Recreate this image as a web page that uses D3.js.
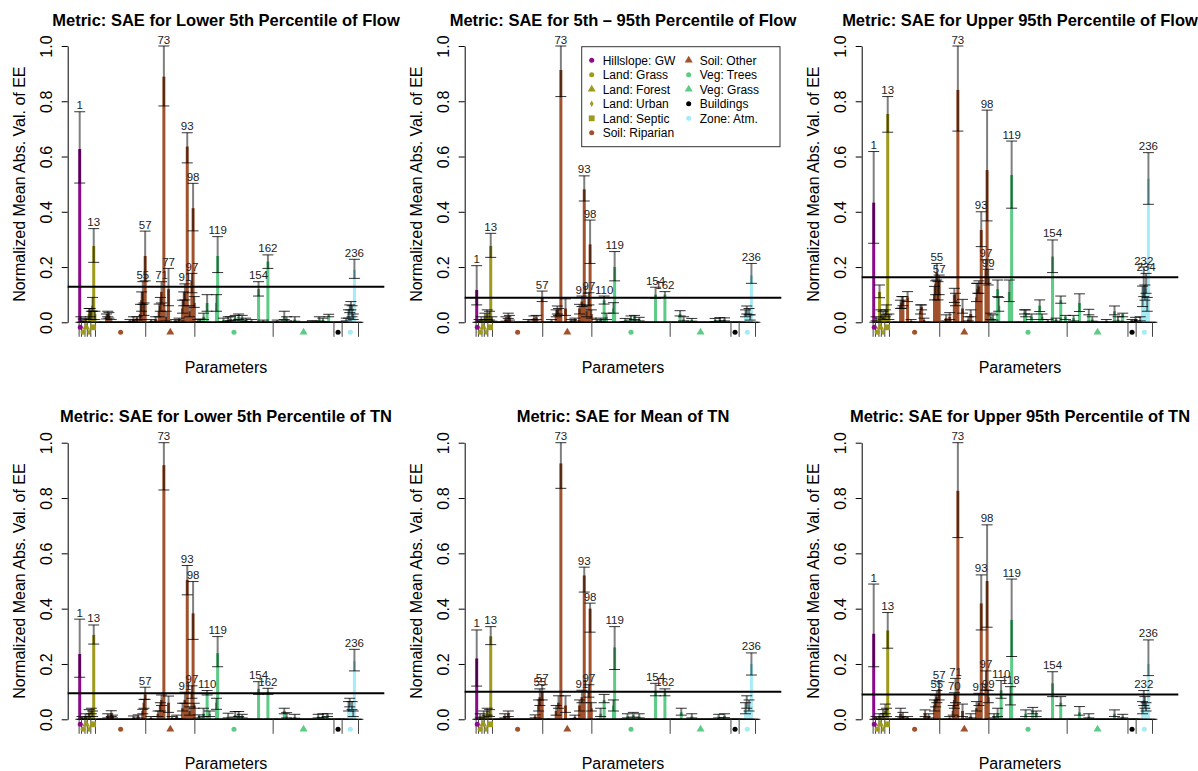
<!DOCTYPE html>
<html><head><meta charset="utf-8">
<script src="https://cdn.jsdelivr.net/npm/d3@7"></script>
<style>
body{margin:0;background:#fff;}
svg text{font-family:"Liberation Sans",Arial,Helvetica,sans-serif;}
</style>
</head><body>
<svg id="chart" width="1198" height="771"></svg>
<script>
// ---------------- DATA ----------------
const panelTitles = [
  "Metric: SAE for Lower 5th Percentile of Flow",
  "Metric: SAE for 5th \u2013 95th Percentile of Flow",
  "Metric: SAE for Upper 95th Percentile of Flow",
  "Metric: SAE for Lower 5th Percentile of TN",
  "Metric: SAE for Mean of TN",
  "Metric: SAE for Upper 95th Percentile of TN"
];
const thresholds = [0.129, 0.089, 0.163, 0.094, 0.100, 0.090];
const yTicks = [0, 0.2, 0.4, 0.6, 0.8, 1.0];
const nParams = 239;

// parameter categories (first/last parameter index)
const categoryNames = ["Hillslope: GW","Land: Grass","Land: Forest","Land: Urban","Land: Septic",
  "Soil: Riparian","Soil: Other","Veg: Trees","Veg: Grass","Buildings","Zone: Atm."];
const categoryFirst = [1, 3, 6, 8, 11, 15, 58, 100, 167, 219, 226];
const categoryLast  = [2, 5, 7, 10, 14, 57, 99, 166, 218, 225, 239];

// [parameter, mean, lower, upper]; parameters not listed are 0
const flowLow = [
 [1,0.627,0.504,0.762],[2,0.01,0,0.02],[4,0.005,0,0.012],[6,0.008,0.002,0.015],[9,0.03,0.01,0.05],
 [10,0.04,0.02,0.05],[11,0.02,0.01,0.04],[12,0.06,0.04,0.09],[13,0.276,0.217,0.339],[14,0.03,0.01,0.04],
 [24,0.02,0.012,0.03],[25,0.03,0.02,0.04],[26,0.025,0.015,0.035],[28,0.005,0,0.01],[44,0.004,0,0.01],
 [47,0.01,0.004,0.02],[50,0.015,0.008,0.02],[53,0.03,0.01,0.065],[54,0.08,0.04,0.11],[55,0.11,0.065,0.147],
 [56,0.05,0.025,0.07],[57,0.24,0.15,0.33],[62,0.005,0,0.01],[66,0.01,0.004,0.02],[69,0.04,0.02,0.066],
 [70,0.06,0.04,0.09],[71,0.11,0.07,0.147],[73,0.889,0.783,1.0],[75,0.02,0.005,0.04],[77,0.12,0.06,0.195],
 [83,0.005,0,0.01],[86,0.01,0.005,0.015],[89,0.05,0.033,0.08],[90,0.08,0.06,0.11],[91,0.11,0.081,0.139],
 [93,0.636,0.577,0.686],[95,0.04,0.02,0.06],[97,0.15,0.107,0.177],[98,0.413,0.331,0.503],[99,0.07,0.054,0.093],
 [102,0.005,0,0.01],[104,0.008,0.002,0.012],[107,0.02,0.01,0.033],[110,0.07,0.04,0.1],[118,0.07,0.04,0.1],
 [119,0.24,0.18,0.31],[124,0.008,0.003,0.015],[128,0.01,0.004,0.02],[130,0.012,0.006,0.02],[134,0.015,0.008,0.025],
 [137,0.02,0.01,0.03],[140,0.015,0.008,0.025],[143,0.008,0.003,0.015],[148,0.005,0,0.01],[154,0.12,0.095,0.147],
 [158,0.005,0,0.008],[162,0.22,0.195,0.244],[170,0.005,0,0.008],[176,0.02,0.01,0.04],[178,0.01,0.005,0.02],
 [185,0.01,0.004,0.02],[200,0.003,0,0.006],[206,0.01,0.004,0.02],[209,0.008,0.002,0.015],[214,0.025,0.02,0.029],
 [229,0.01,0.005,0.015],[231,0.03,0.015,0.045],[232,0.05,0.035,0.063],[233,0.06,0.045,0.075],[234,0.04,0.02,0.06],
 [235,0.02,0.01,0.03],[236,0.19,0.159,0.228]
];
const flowMid = [
 [1,0.117,0.063,0.205],[3,0.005,0,0.01],[5,0.01,0.005,0.02],[8,0.02,0.01,0.033],[10,0.03,0.01,0.045],
 [12,0.02,0.008,0.04],[13,0.276,0.235,0.322],[14,0.01,0.004,0.02],[26,0.01,0.004,0.02],[28,0.02,0.014,0.033],
 [29,0.015,0.008,0.025],[45,0.005,0,0.01],[50,0.015,0.008,0.023],[52,0.018,0.01,0.025],[57,0.09,0.075,0.113],
 [65,0.005,0,0.01],[69,0.03,0.02,0.045],[70,0.045,0.03,0.059],[71,0.035,0.025,0.05],[73,0.913,0.817,1.0],
 [77,0.05,0.025,0.085],[82,0.005,0,0.01],[85,0.01,0.005,0.015],[89,0.05,0.03,0.065],[91,0.075,0.057,0.095],
 [93,0.481,0.439,0.53],[95,0.04,0.02,0.06],[97,0.085,0.063,0.107],[98,0.282,0.213,0.37],[99,0.03,0.015,0.045],
 [104,0.005,0,0.01],[107,0.01,0.004,0.015],[110,0.08,0.066,0.095],[112,0.02,0.01,0.033],[118,0.05,0.033,0.071],
 [119,0.2,0.15,0.256],[128,0.008,0.003,0.014],[133,0.015,0.008,0.023],[136,0.018,0.01,0.025],[140,0.01,0.005,0.018],
 [154,0.1,0.087,0.127],[162,0.1,0.09,0.111],[175,0.03,0.023,0.042],[178,0.01,0.005,0.02],[185,0.008,0.004,0.014],
 [205,0.008,0.003,0.014],[209,0.01,0.005,0.017],[213,0.01,0.005,0.016],[231,0.03,0.02,0.045],[232,0.045,0.03,0.059],
 [234,0.035,0.027,0.05],[235,0.015,0.008,0.027],[236,0.17,0.141,0.213]
];
const flowHigh = [
 [1,0.433,0.286,0.618],[3,0.01,0.005,0.02],[6,0.11,0.089,0.135],[7,0.03,0.015,0.045],[9,0.02,0.01,0.04],
 [11,0.03,0.02,0.045],[12,0.04,0.027,0.063],[13,0.754,0.688,0.817],[14,0.02,0.01,0.03],[24,0.06,0.05,0.08],
 [25,0.07,0.051,0.093],[26,0.08,0.06,0.093],[30,0.09,0.075,0.111],[33,0.005,0,0.01],[41,0.04,0.03,0.063],
 [42,0.055,0.045,0.063],[44,0.008,0,0.015],[53,0.1,0.081,0.13],[54,0.14,0.1,0.15],[55,0.18,0.153,0.213],
 [56,0.12,0.081,0.147],[57,0.15,0.1,0.171],[63,0.015,0.005,0.027],[66,0.02,0.01,0.035],[70,0.1,0.072,0.123],
 [71,0.08,0.06,0.105],[73,0.841,0.692,1.0],[77,0.05,0.033,0.083],[82,0.01,0.005,0.02],[84,0.03,0.02,0.045],
 [89,0.09,0.075,0.141],[90,0.12,0.105,0.141],[91,0.13,0.105,0.15],[93,0.334,0.274,0.4],[97,0.19,0.141,0.226],
 [98,0.551,0.367,0.768],[99,0.16,0.135,0.192],[101,0.02,0.01,0.033],[103,0.015,0.008,0.027],[107,0.12,0.093,0.153],
 [108,0.06,0.04,0.09],[117,0.11,0.075,0.153],[119,0.533,0.413,0.656],[130,0.035,0.03,0.045],[131,0.03,0.02,0.045],
 [136,0.02,0.01,0.03],[143,0.06,0.039,0.081],[145,0.02,0.01,0.03],[150,0.005,0,0.01],[154,0.238,0.18,0.298],
 [157,0.01,0.004,0.015],[161,0.08,0.069,0.095],[165,0.02,0.01,0.025],[172,0.015,0.005,0.025],[177,0.07,0.039,0.103],
 [185,0.03,0.027,0.047],[188,0.01,0.004,0.02],[200,0.005,0,0.01],[207,0.04,0.027,0.059],[210,0.01,0.004,0.02],
 [214,0.03,0.02,0.033],[222,0.005,0,0.01],[225,0.01,0.005,0.018],[229,0.01,0.005,0.02],[231,0.09,0.057,0.131],
 [232,0.13,0.093,0.2],[233,0.11,0.08,0.135],[234,0.12,0.105,0.177],[235,0.06,0.04,0.09],[236,0.52,0.427,0.614]
];
const tnLow = [
 [1,0.236,0.152,0.362],[3,0.005,0,0.01],[6,0.01,0.005,0.02],[9,0.02,0.01,0.035],[11,0.03,0.02,0.04],
 [12,0.02,0.01,0.03],[13,0.305,0.272,0.341],[25,0.01,0.005,0.02],[28,0.02,0.01,0.031],[29,0.01,0.005,0.015],
 [47,0.005,0,0.012],[51,0.01,0.005,0.016],[55,0.03,0.02,0.036],[56,0.06,0.04,0.072],[57,0.09,0.072,0.116],
 [62,0.005,0,0.01],[68,0.02,0.01,0.03],[70,0.05,0.03,0.06],[71,0.07,0.05,0.088],[73,0.919,0.829,1.0],
 [77,0.06,0.025,0.084],[80,0.005,0,0.01],[84,0.008,0.003,0.015],[89,0.04,0.03,0.058],[91,0.07,0.058,0.098],
 [93,0.504,0.45,0.556],[95,0.03,0.015,0.045],[97,0.1,0.076,0.121],[98,0.383,0.289,0.498],[99,0.05,0.04,0.058],
 [103,0.01,0.005,0.016],[107,0.02,0.01,0.04],[110,0.095,0.088,0.104],[112,0.02,0.01,0.03],[118,0.06,0.036,0.076],
 [119,0.239,0.19,0.299],[128,0.01,0.005,0.022],[134,0.015,0.008,0.028],[137,0.02,0.01,0.028],[140,0.01,0.005,0.018],
 [154,0.11,0.09,0.136],[162,0.1,0.09,0.112],[176,0.03,0.02,0.04],[178,0.01,0.005,0.024],[185,0.008,0.004,0.018],
 [205,0.01,0.005,0.018],[209,0.012,0.006,0.02],[213,0.015,0.01,0.02],[231,0.04,0.03,0.064],[232,0.06,0.045,0.076],
 [234,0.05,0.035,0.064],[235,0.02,0.01,0.03],[236,0.21,0.175,0.253]
];
const tnMean = [
 [1,0.22,0.12,0.323],[4,0.01,0.005,0.02],[7,0.015,0.008,0.03],[10,0.03,0.015,0.04],[12,0.02,0.01,0.035],
 [13,0.3,0.27,0.335],[25,0.01,0.005,0.02],[28,0.02,0.01,0.03],[51,0.01,0.005,0.016],[54,0.05,0.03,0.07],
 [55,0.08,0.05,0.11],[57,0.1,0.07,0.125],[69,0.03,0.015,0.05],[71,0.06,0.04,0.085],[73,0.925,0.835,1.0],
 [77,0.05,0.025,0.085],[85,0.008,0.003,0.015],[89,0.05,0.03,0.07],[91,0.08,0.06,0.105],[93,0.52,0.46,0.55],
 [97,0.1,0.08,0.125],[98,0.4,0.315,0.42],[99,0.04,0.03,0.06],[107,0.02,0.01,0.04],[110,0.07,0.06,0.09],
 [118,0.05,0.03,0.07],[119,0.26,0.18,0.335],[130,0.01,0.005,0.02],[135,0.015,0.008,0.025],[140,0.01,0.005,0.02],
 [154,0.1,0.085,0.13],[162,0.095,0.085,0.11],[176,0.025,0.015,0.04],[185,0.01,0.005,0.02],[208,0.01,0.005,0.018],
 [213,0.012,0.006,0.02],[231,0.03,0.02,0.06],[232,0.06,0.04,0.085],[234,0.05,0.03,0.07],[236,0.2,0.16,0.24]
];
const tnHigh = [
 [1,0.309,0.19,0.489],[3,0.005,0,0.01],[6,0.01,0.005,0.02],[9,0.02,0.01,0.035],[11,0.03,0.02,0.055],
 [12,0.02,0.01,0.04],[13,0.321,0.257,0.386],[24,0.02,0.01,0.04],[26,0.01,0.005,0.025],[30,0.005,0,0.01],
 [45,0.02,0.01,0.034],[48,0.01,0.005,0.02],[53,0.05,0.03,0.07],[54,0.07,0.045,0.088],[55,0.08,0.06,0.104],
 [57,0.11,0.07,0.136],[66,0.005,0,0.01],[69,0.03,0.015,0.05],[70,0.07,0.04,0.096],[71,0.09,0.06,0.148],
 [73,0.826,0.657,1.0],[77,0.03,0.01,0.055],[84,0.01,0.005,0.02],[89,0.04,0.03,0.064],[91,0.06,0.05,0.094],
 [93,0.419,0.323,0.522],[97,0.13,0.106,0.175],[98,0.5,0.333,0.703],[99,0.08,0.06,0.104],[104,0.01,0.005,0.02],
 [107,0.02,0.01,0.04],[110,0.105,0.076,0.14],[118,0.09,0.052,0.118],[119,0.359,0.227,0.507],[131,0.02,0.01,0.034],
 [137,0.03,0.02,0.043],[140,0.02,0.01,0.03],[154,0.13,0.082,0.172],[161,0.06,0.049,0.082],[177,0.025,0.015,0.046],
 [185,0.01,0.005,0.02],[207,0.02,0.01,0.034],[214,0.01,0.005,0.018],[231,0.04,0.02,0.064],[232,0.07,0.05,0.104],
 [233,0.06,0.04,0.082],[234,0.04,0.03,0.06],[236,0.2,0.158,0.287]
];
const panelData = [flowLow, flowMid, flowHigh, tnLow, tnMean, tnHigh];

// ---------------- STYLE ----------------
const categoryColors = ["#8B0A8B","#9E9A1C","#9E9A1C","#9E9A1C","#9E9A1C","#A0522D","#A0522D",
  "#5CCB85","#5CCB85","#000000","#A6ECF6"];
const categoryShapes = ["circle","circle","triangle","diamond","square","circle","triangle",
  "circle","triangle","circle","circle"];
const markerLift = [1,0,1,0,1,0,0,0,0,0,0];

const svg = d3.select("#chart");
svg.append("rect").attr("width",1198).attr("height",771).attr("fill","#fff");

function symbolPath(shape, scale){
  const s = scale || 1;
  const m = {circle:[d3.symbolCircle,20],triangle:[d3.symbolTriangle,28],
             diamond:[d3.symbolDiamond,12],square:[d3.symbolSquare,34]}[shape];
  return d3.symbol().type(m[0]).size(m[1]*s)();
}
function catOf(p){
  for(let i=0;i<categoryFirst.length;i++) if(p>=categoryFirst[i] && p<=categoryLast[i]) return i;
  return 0;
}

panelData.forEach((list, k) => {
  const col = k % 3, row = Math.floor(k / 3);
  const ax = 67.7 + 397*col;
  const yTop = 46 + 396.7*row, yBot = 322.3 + 397*row;
  const plotW = 316.6;
  const y = d3.scaleLinear().domain([0,1]).range([yBot, yTop]);
  const x = d3.scaleLinear().domain([1, nParams]).range([ax+12, ax+12+(nParams-1)*1.169]);
  const g = svg.append("g");

  const byParam = new Map(list.map(d => [d[0], d]));
  const series = d3.range(1, nParams+1).map(p => {
    const d = byParam.get(p);
    return d ? {p, mean:d[1], lo:d[2], hi:d[3]} : {p, mean:0, lo:0, hi:0};
  });

  // bars
  g.append("g").selectAll("rect").data(series.filter(d => d.mean > 0)).join("rect")
    .attr("x", d => x(d.p) - 1.5).attr("width", 3)
    .attr("y", d => y(d.mean)).attr("height", d => yBot - y(d.mean))
    .attr("fill", d => categoryColors[catOf(d.p)]);

  // error bars
  const eb = g.append("g");
  eb.selectAll("line.v").data(series.filter(d => d.hi > d.lo)).join("line")
    .attr("class","v")
    .attr("x1", d => x(d.p)).attr("x2", d => x(d.p))
    .attr("y1", d => y(d.lo)).attr("y2", d => y(d.hi))
    .attr("stroke","rgba(0,0,0,0.5)").attr("stroke-width",2);
  const caps = [];
  series.forEach(d => { caps.push({p:d.p, v:d.lo}); if (d.hi !== d.lo) caps.push({p:d.p, v:d.hi}); });
  eb.selectAll("line.c").data(caps).join("line")
    .attr("class","c")
    .attr("x1", d => x(d.p) - 5.5).attr("x2", d => x(d.p) + 5.5)
    .attr("y1", d => y(d.v)).attr("y2", d => y(d.v))
    .attr("stroke","#000").attr("stroke-opacity",0.8).attr("stroke-width",1);

  // threshold
  g.append("line").attr("x1", ax).attr("x2", ax+plotW)
    .attr("y1", y(thresholds[k])).attr("y2", y(thresholds[k]))
    .attr("stroke","#000").attr("stroke-width",2);

  // labels
  g.append("g").selectAll("text").data(series.filter(d => d.hi > thresholds[k])).join("text")
    .attr("x", d => x(d.p)).attr("y", d => y(d.hi) - 2.5)
    .attr("text-anchor","middle").attr("font-size",11.5).attr("fill","#222")
    .text(d => d.p);

  // category separators and markers
  const cg = g.append("g");
  const bounds = new Set();
  categoryFirst.forEach((f,i) => { bounds.add(f - 0.5); bounds.add(categoryLast[i] + 0.5); });
  cg.selectAll("line").data([...bounds]).join("line")
    .attr("x1", d => x(d)).attr("x2", d => x(d))
    .attr("y1", yBot).attr("y2", yBot + 14.5)
    .attr("stroke","#444").attr("stroke-width",1);
  cg.selectAll("path").data(categoryNames.map((n,i) => i)).join("path")
    .attr("d", i => symbolPath(categoryShapes[i]))
    .attr("transform", i => `translate(${x((categoryFirst[i]+categoryLast[i])/2)},${yBot + (markerLift[i] ? 5 : 10)})`)
    .attr("fill", i => categoryColors[i]);

  // y axis
  const axis = d3.axisLeft(y).tickValues(yTicks).tickFormat(d3.format(".1f")).tickSize(6).tickSizeOuter(0);
  const ag = g.append("g").attr("transform", `translate(${ax},0)`).call(axis);
  ag.selectAll("path, line").attr("stroke","#000");
  ag.selectAll("text").attr("x", null).attr("dy", null)
    .attr("text-anchor","middle")
    .attr("transform","translate(-15.3,0) rotate(-90)")
    .attr("font-size",16).attr("fill","#000")
    .attr("font-family",'"Liberation Sans",Arial,sans-serif');

  // titles
  g.append("text").attr("x", ax + plotW/2).attr("y", 26 + 396*row)
    .attr("text-anchor","middle").attr("font-size",16.5).attr("font-weight","bold")
    .text(panelTitles[k]);
  g.append("text").attr("x", ax + plotW/2).attr("y", 372.5 + 396.5*row)
    .attr("text-anchor","middle").attr("font-size",16).text("Parameters");
  g.append("text")
    .attr("transform", `translate(${ax-42.3},${(yTop+yBot)/2}) rotate(-90)`)
    .attr("text-anchor","middle").attr("font-size",16).text("Normalized Mean Abs. Val. of EE");

  // legend in the middle top panel
  if (k === 1) {
    const lg = svg.append("g");
    lg.append("rect").attr("x",581.7).attr("y",46.7).attr("width",198.3).attr("height",100)
      .attr("fill","#fff").attr("stroke","#333").attr("stroke-width",1);
    categoryNames.forEach((n,i) => {
      const c = i < 6 ? 0 : 1, r = i < 6 ? i : i - 6;
      const mx = c ? 688.7 : 591.7, cy = 60.3 + 14.5*r;
      lg.append("path").attr("d", symbolPath(categoryShapes[i]))
        .attr("transform", `translate(${mx},${cy})`).attr("fill", categoryColors[i]);
      lg.append("text").attr("x", mx + 11).attr("y", cy + 4.3)
        .attr("font-size",12).attr("fill","#000").text(n);
    });
  }
});
</script>
</body></html>
